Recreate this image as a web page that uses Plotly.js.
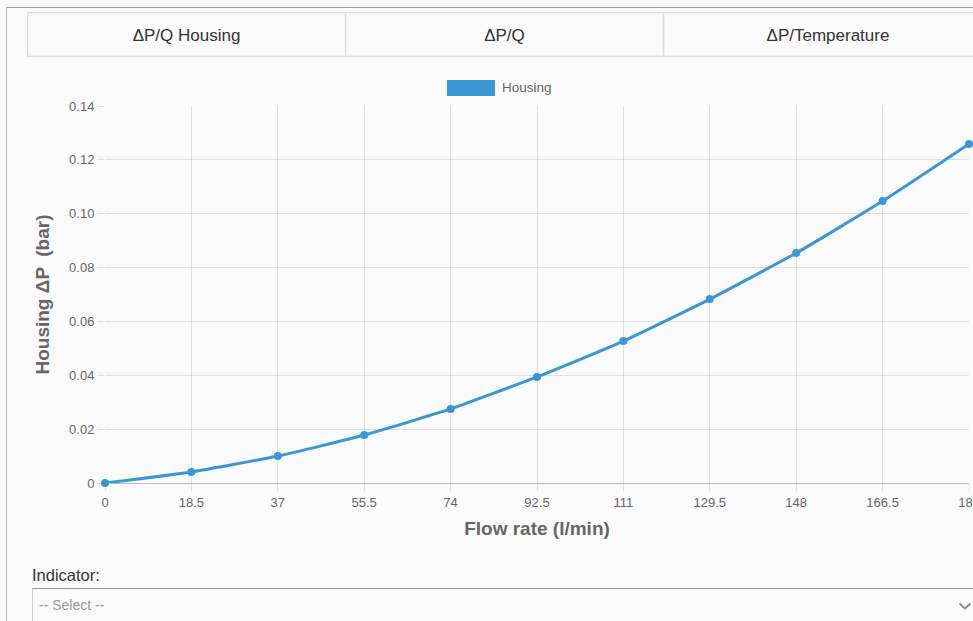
<!DOCTYPE html>
<html>
<head>
<meta charset="utf-8">
<script src="https://cdn.plot.ly/plotly-3.0.1.min.js"></script>
<style>
  html, body { margin: 0; padding: 0; width: 973px; height: 621px; overflow: hidden; background: #fafafa; font-family: "Liberation Sans", Arial, sans-serif; }
  #frame { position: absolute; left: 6px; top: 7px; width: 1000px; height: 700px; border-left: 1px solid #bbb; border-top: 1px solid #999; }
  .tab { position: absolute; top: 12px; height: 45px; border: 1px solid #ddd; box-shadow: inset 0 0 0 1px #f0f0f0; background: #fafafa; color: #333; font-size: 17px; text-align: center; line-height: 45px; box-sizing: border-box; }
  #plot { position: absolute; left: 0; top: 0; width: 1000px; height: 621px; }
  #ind { position: absolute; left: 32px; top: 566px; font-size: 16.5px; color: #333; }
  #sel { position: absolute; left: 32px; top: 588px; width: 960px; height: 40px; border: 1px solid #ccc; border-top-color: #999; box-sizing: border-box; background: #fafafa; }
  #sel span.t { position: absolute; left: 6px; top: 8px; font-size: 14px; color: #999; }
  #sel svg { position: absolute; left: 925px; top: 12px; }
</style>
</head>
<body>
<div id="frame"></div>
<div class="tab" style="left:27px;width:319px;">ΔP/Q Housing</div>
<div class="tab" style="left:345px;width:319px;">ΔP/Q</div>
<div class="tab" style="left:663px;width:330px;">ΔP/Temperature</div>
<div id="plot"></div>
<div id="ind">Indicator:</div>
<div id="sel"><span class="t">-- Select --</span><svg width="14" height="10" viewBox="0 0 14 10"><polyline points="1.5,2.5 7,7.5 12.5,2.5" fill="none" stroke="#888" stroke-width="1.8"/></svg></div>
<script>
const flowRate = [0, 18.5, 37, 55.5, 74, 92.5, 111, 129.5, 148, 166.5, 185];
const flowLabels = ["0", "18.5", "37", "55.5", "74", "92.5", "111", "129.5", "148", "166.5", "185"];
const housingDP = [0, 0.0041, 0.0100, 0.0178, 0.0275, 0.0394, 0.0527, 0.0683, 0.0854, 0.1047, 0.1259];
const yTicks = [0, 0.02, 0.04, 0.06, 0.08, 0.10, 0.12, 0.14];
const yTickLabels = ["0", "0.02", "0.04", "0.06", "0.08", "0.10", "0.12", "0.14"];
const seriesName = "Housing";

const lineColor = "#3a97d6";
const L = 105, R = 969, T = 106, B = 483;
const px2x = p => (p - L) / (R - L);
const px2y = p => (B - p) / (B - T);

const trace = {
  x: flowRate, y: housingDP, name: seriesName, type: "scatter", mode: "lines+markers",
  line: { color: lineColor, width: 3, shape: "spline", smoothing: 0.5 },
  marker: { color: lineColor, size: 8 },
  cliponaxis: false, showlegend: false, hoverinfo: "x+y"
};

const gridC = "rgba(0,0,0,0.1)";
const layout = {
  width: 1000, height: 621,
  margin: { l: L, r: 1000 - R, t: T, b: 621 - B },
  paper_bgcolor: "rgba(0,0,0,0)", plot_bgcolor: "rgba(0,0,0,0)",
  font: { family: "Liberation Sans, Arial, sans-serif", color: "#666", size: 13 },
  xaxis: {
    range: [0, 185], tickvals: flowRate, ticktext: flowLabels,
    showgrid: true, gridcolor: gridC, zeroline: false, showline: false,
    ticks: "outside", ticklen: 7, tickcolor: gridC, tickfont: { size: 13, color: "#666" },
    title: { text: "Flow rate (l/min)", font: { size: 19, color: "#666", weight: "bold" }, standoff: 13 }
  },
  yaxis: {
    range: [0, 0.14], tickvals: yTicks, ticktext: yTickLabels,
    showgrid: true, gridcolor: gridC, zeroline: true, zerolinecolor: "rgba(0,0,0,0.25)", zerolinewidth: 1,
    showline: false, ticks: "outside", ticklen: 7, tickcolor: gridC, tickfont: { size: 13, color: "#666" },
    title: { text: "Housing ΔP  (bar)", font: { size: 19, color: "#666", weight: "bold" }, standoff: 14 }
  },
  shapes: [{
    type: "rect", xref: "paper", yref: "paper",
    x0: px2x(447), x1: px2x(495), y0: px2y(96), y1: px2y(80),
    fillcolor: lineColor, line: { width: 0 }
  }],
  annotations: [{
    xref: "paper", yref: "paper", x: px2x(500), y: px2y(87), xanchor: "left", yanchor: "middle",
    text: seriesName, showarrow: false, font: { size: 13.5, color: "#666" }
  }]
};

Plotly.newPlot("plot", [trace], layout, { displayModeBar: false, staticPlot: true });
</script>
</body>
</html>
